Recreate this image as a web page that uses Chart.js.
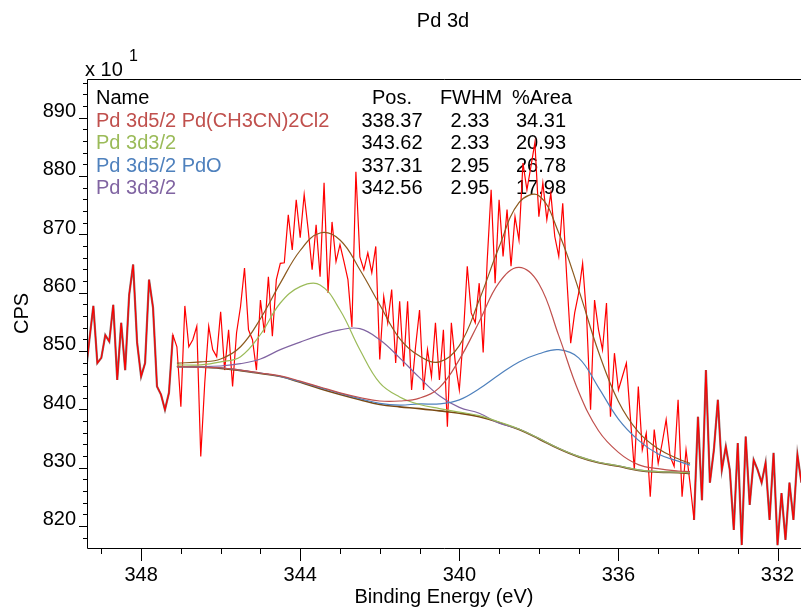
<!DOCTYPE html>
<html>
<head>
<meta charset="utf-8">
<script src="https://cdn.jsdelivr.net/npm/chart.js@4.4.1/dist/chart.umd.min.js"></script>
<style>
  html, body { margin: 0; padding: 0; background: #fff; }
</style>
</head>
<body>
<canvas id="xps" width="801" height="610"></canvas>
<script>
// raw spectrum (binding energy in eV, counts in CPS x 10)
const rawEnergy = [349.4, 349.3, 349.2, 349.1, 349.0, 348.9, 348.8, 348.7, 348.6, 348.5,
  348.4, 348.3, 348.2, 348.1, 348.0, 347.9, 347.8, 347.7, 347.6, 347.5,
  347.4, 347.3, 347.2, 347.1, 347.0, 346.9, 346.8, 346.7, 346.6, 346.5,
  346.4, 346.3, 346.2, 346.1, 346.0, 345.9, 345.8, 345.7, 345.6, 345.5,
  345.4, 345.3, 345.2, 345.1, 345.0, 344.9, 344.8, 344.7, 344.6, 344.5,
  344.4, 344.3, 344.2, 344.1, 344.0, 343.9, 343.8, 343.7, 343.6, 343.5,
  343.4, 343.3, 343.2, 343.1, 343.0, 342.9, 342.8, 342.7, 342.6, 342.5,
  342.4, 342.3, 342.2, 342.1, 342.0, 341.9, 341.8, 341.7, 341.6, 341.5,
  341.4, 341.3, 341.2, 341.1, 341.0, 340.9, 340.8, 340.7, 340.6, 340.5,
  340.4, 340.3, 340.2, 340.1, 340.0, 339.9, 339.8, 339.7, 339.6, 339.5,
  339.4, 339.3, 339.2, 339.1, 339.0, 338.9, 338.8, 338.7, 338.6, 338.5,
  338.4, 338.3, 338.2, 338.1, 338.0, 337.9, 337.8, 337.7, 337.6, 337.5,
  337.4, 337.3, 337.2, 337.1, 337.0, 336.9, 336.8, 336.7, 336.6, 336.5,
  336.4, 336.3, 336.2, 336.1, 336.0, 335.9, 335.8, 335.7, 335.6, 335.5,
  335.4, 335.3, 335.2, 335.1, 335.0, 334.9, 334.8, 334.7, 334.6, 334.5,
  334.4, 334.3, 334.2, 334.1, 334.0, 333.9, 333.8, 333.7, 333.6, 333.5,
  333.4, 333.3, 333.2, 333.1, 333.0, 332.9, 332.8, 332.7, 332.6, 332.5,
  332.4, 332.3, 332.2, 332.1, 332.0, 331.9, 331.8, 331.7, 331.6, 331.5,
  331.4];
const rawCounts = [845.6, 851.9, 857.7, 847.9, 848.8, 852.7, 851.6, 857.9, 845.0, 854.8,
  846.7, 859.6, 864.8, 851.4, 845.6, 847.9, 862.2, 857.4, 843.9, 842.5,
  839.9, 842.8, 852.7, 850.7, 840.4, 857.7, 850.7, 851.9, 854.2, 831.9,
  844.5, 854.2, 850.2, 849.0, 856.7, 846.7, 853.6, 843.9, 853.1, 857.6,
  864.2, 853.6, 851.9, 846.7, 858.7, 853.1, 862.7, 852.5, 862.2, 865.0,
  865.1, 873.3, 867.3, 875.9, 869.4, 876.8, 870.8, 863.9, 871.6, 862.7,
  878.8, 859.9, 872.1, 865.3, 868.2, 865.3, 862.2, 854.1, 880.7, 866.1,
  863.9, 866.8, 863.4, 867.9, 848.5, 859.3, 854.8, 860.5, 847.9, 858.5,
  847.3, 858.5, 843.3, 850.7, 857.0, 843.3, 850.2, 845.6, 854.8, 845.0,
  853.6, 837.0, 854.8, 847.9, 843.3, 852.5, 864.5, 856.5, 854.8, 861.6,
  849.7, 865.3, 877.6, 861.6, 875.9, 866.2, 874.2, 864.5, 873.0, 869.0,
  882.2, 877.6, 881.6, 885.7, 873.0, 878.8, 872.5, 877.0, 869.6, 866.2,
  875.3, 862.7, 851.3, 856.5, 859.9, 865.0, 855.9, 839.9, 858.7, 853.6,
  850.2, 858.2, 838.7, 849.6, 843.3, 845.6, 847.9, 838.6, 829.6, 843.9,
  833.0, 835.9, 825.0, 836.5, 830.7, 834.2, 838.2, 831.9, 830.2, 841.6,
  825.0, 833.0, 827.3, 821.0, 838.7, 824.4, 846.7, 827.4, 833.0, 841.6,
  829.6, 833.6, 829.6, 819.3, 834.2, 816.7, 835.3, 823.6, 831.3, 829.6,
  827.4, 830.8, 821.0, 832.5, 816.7, 825.6, 817.6, 827.4, 821.0, 832.2,
  827.4];

// fitted curves, sampled over the fit region
const fitEnergy = [347.1, 346.5, 346.0, 345.5, 345.0, 344.5, 344.0, 343.5, 343.0, 342.5,
  342.0, 341.5, 341.0, 340.5, 340.0, 339.5, 339.0, 338.5, 338.0, 337.5,
  337.0, 336.5, 336.0, 335.5, 335.0, 334.5, 334.2];
const backgroundCounts = [847.3, 847.2, 847.0, 846.6, 846.1, 845.6, 844.6, 843.5, 842.5, 841.6,
  840.8, 840.4, 840.1, 839.7, 839.3, 838.7, 837.7, 836.5, 834.9, 833.2,
  831.8, 830.8, 830.2, 829.5, 829.2, 829.1, 829.0];
const clD52Counts = [847.3, 847.2, 847.1, 846.7, 846.2, 845.7, 844.8, 843.8, 842.8, 842.0,
  841.4, 841.4, 841.9, 843.7, 848.5, 855.0, 861.7, 864.3, 861.5, 852.6,
  843.0, 836.3, 832.6, 830.5, 829.8, 829.4, 829.3];
const clD32Counts = [847.6, 847.6, 848.1, 849.0, 852.8, 858.2, 861.0, 861.3, 857.0, 850.2,
  844.5, 842.1, 840.8, 840.1, 839.5, 838.9, 837.8, 836.6, 835.0, 833.3,
  831.9, 830.9, 830.3, 829.6, 829.3, 829.2, 829.1];
const pdoD52Counts = [847.3, 847.2, 847.1, 846.7, 846.2, 845.6, 844.7, 843.7, 842.7, 841.8,
  841.0, 840.7, 840.9, 840.9, 841.6, 843.5, 845.9, 848.1, 849.5, 850.2,
  848.8, 843.7, 838.3, 834.7, 832.3, 831.1, 830.4];
const pdoD32Counts = [847.3, 847.3, 847.4, 847.8, 848.6, 850.2, 851.5, 852.7, 853.6, 853.8,
  851.9, 848.8, 845.4, 842.3, 840.3, 839.3, 837.6, 836.6, 835.0, 833.3,
  831.9, 830.9, 830.3, 829.6, 829.3, 829.2, 829.1];
const envelopeCounts = [847.9, 848.1, 848.6, 850.7, 855.5, 861.6, 867.2, 870.2, 869.0, 863.9,
  857.9, 852.1, 849.1, 848.1, 850.9, 858.7, 867.8, 875.4, 876.6, 870.2,
  860.5, 849.8, 841.3, 836.1, 833.2, 831.5, 830.7];

// peak table
const peakNames = ['Pd 3d5/2 Pd(CH3CN)2Cl2', 'Pd 3d3/2', 'Pd 3d5/2 PdO', 'Pd 3d3/2'];
const peakPos = [338.37, 343.62, 337.31, 342.56];
const peakFwhm = [2.33, 2.33, 2.95, 2.95];
const peakArea = [34.31, 20.93, 26.78, 17.98];
const peakColors = ['#c0504d', '#9bbb59', '#4f81bd', '#8064a2'];

const FONT = "'Liberation Sans', Arial, sans-serif";
const fitStart = fitEnergy[0];
const fitEnd = fitEnergy[fitEnergy.length - 1];

function pts(xs, ys) {
  return xs.map((x, i) => ({ x: x, y: ys[i] }));
}

const fitLine = (label, data, color, width) => ({
  label: label,
  data: pts(fitEnergy, data),
  borderColor: color,
  borderWidth: width || 1.2,
  pointRadius: 0,
  tension: 0.4,
  fill: false
});

// table text, frame, ticks and the extra labels
const decorations = {
  id: 'decorations',
  beforeDatasetsDraw(chart) {
    const ctx = chart.ctx;
    ctx.save();
    ctx.font = '20px ' + FONT;
    ctx.textBaseline = 'alphabetic';
    const rowY = [104, 126.5, 149, 171.5, 194];
    ctx.fillStyle = '#000';
    ctx.textAlign = 'left';
    ctx.fillText('Name', 96, rowY[0]);
    ctx.textAlign = 'center';
    ctx.fillText('Pos.', 392, rowY[0]);
    ctx.fillText('FWHM', 471, rowY[0]);
    ctx.fillText('%Area', 542, rowY[0]);
    peakNames.forEach((name, i) => {
      const y = rowY[i + 1];
      ctx.textAlign = 'left';
      ctx.fillStyle = peakColors[i];
      ctx.fillText(name, 96, y);
      ctx.fillStyle = '#000';
      ctx.textAlign = 'center';
      ctx.fillText(peakPos[i].toFixed(2), 392, y);
      ctx.fillText(peakFwhm[i].toFixed(2), 470, y);
      ctx.fillText(peakArea[i].toFixed(2), 541, y);
    });
    ctx.restore();
  },
  afterDraw(chart) {
    const { ctx, chartArea: a, scales: { x, y } } = chart;
    ctx.save();
    ctx.strokeStyle = '#000';
    ctx.lineWidth = 1;
    ctx.beginPath();
    ctx.moveTo(a.right, a.top + 0.5);
    ctx.lineTo(a.left + 0.5, a.top + 0.5);
    ctx.lineTo(a.left + 0.5, a.bottom + 0.5);
    ctx.lineTo(a.right, a.bottom + 0.5);
    x.ticks.forEach(t => {
      const px = Math.round(x.getPixelForValue(t.value)) + 0.5;
      const len = Math.abs(t.value % 4) < 1e-6 ? 13 : 6;
      ctx.moveTo(px, a.bottom);
      ctx.lineTo(px, a.bottom + len);
    });
    y.ticks.forEach(t => {
      const py = Math.round(y.getPixelForValue(t.value)) + 0.5;
      const len = Math.abs(t.value % 10) < 1e-6 ? 8 : 4;
      ctx.moveTo(a.left - len, py);
      ctx.lineTo(a.left, py);
    });
    ctx.stroke();

    ctx.fillStyle = '#000';
    ctx.textBaseline = 'middle';
    ctx.textAlign = 'center';
    ctx.font = '20px ' + FONT;
    ctx.fillText('Pd 3d', 443, 21);
    ctx.textAlign = 'left';
    ctx.fillText('x 10', 85, 70);
    ctx.font = '16px ' + FONT;
    ctx.fillText('1', 129, 57);
    ctx.restore();
  }
};

new Chart(document.getElementById('xps'), {
  type: 'line',
  data: {
    datasets: [
      fitLine('Envelope', envelopeCounts, '#8c5a1e'),
      fitLine(peakNames[0], clD52Counts, peakColors[0]),
      fitLine(peakNames[1], clD32Counts, peakColors[1]),
      fitLine(peakNames[2], pdoD52Counts, peakColors[2]),
      fitLine(peakNames[3], pdoD32Counts, peakColors[3]),
      fitLine('Background', backgroundCounts, '#7a4a14', 1.6),
      {
        label: 'Raw',
        data: pts(rawEnergy, rawCounts),
        borderColor: '#ff0000',
        borderWidth: 1.2,
        pointRadius: 0,
        tension: 0,
        fill: false
      },
      {
        label: 'Raw outside fit',
        data: rawEnergy.map((e, i) => ({ x: e, y: (e > fitStart || e < fitEnd) ? rawCounts[i] : null })),
        borderColor: '#8a6a6a',
        borderWidth: 2.2,
        pointRadius: 0,
        tension: 0,
        spanGaps: false,
        fill: false
      }
    ]
  },
  options: {
    responsive: false,
    animation: false,
    devicePixelRatio: 1,
    layout: { padding: { top: 79, left: 0, right: 0, bottom: 0 } },
    plugins: {
      legend: { display: false },
      tooltip: { enabled: false }
    },
    scales: {
      x: {
        type: 'linear',
        reverse: true,
        min: 331.41,
        max: 349.36,
        grid: { display: false, drawTicks: false },
        border: { display: false },
        ticks: {
          stepSize: 1,
          maxTicksLimit: 100,
          includeBounds: false,
          autoSkip: false,
          maxRotation: 0,
          padding: 15,
          color: '#000',
          font: { family: FONT, size: 20 },
          callback: v => (Math.abs(v % 4) < 1e-6 ? String(v) : '')
        },
        title: {
          display: true,
          text: 'Binding Energy (eV)',
          color: '#000',
          font: { family: FONT, size: 20 },
          padding: { top: 0, bottom: 1 }
        },
        afterFit: s => { s.height = 62; s.paddingLeft = 0; s.paddingRight = 0; }
      },
      y: {
        min: 816.2,
        max: 896.6,
        grid: { display: false, drawTicks: false },
        border: { display: false },
        ticks: {
          stepSize: 2,
          maxTicksLimit: 100,
          includeBounds: false,
          autoSkip: false,
          padding: 11,
          labelOffset: -6,
          color: '#000',
          font: { family: FONT, size: 20 },
          callback: v => (Math.abs(v % 10) < 1e-6 ? String(v) : '')
        },
        title: {
          display: true,
          text: 'CPS',
          color: '#000',
          font: { family: FONT, size: 20 },
          padding: { top: 10, bottom: 0 }
        },
        afterFit: s => { s.width = 87; s.paddingTop = 0; s.paddingBottom = 0; }
      }
    }
  },
  plugins: [decorations]
});
</script>
</body>
</html>
